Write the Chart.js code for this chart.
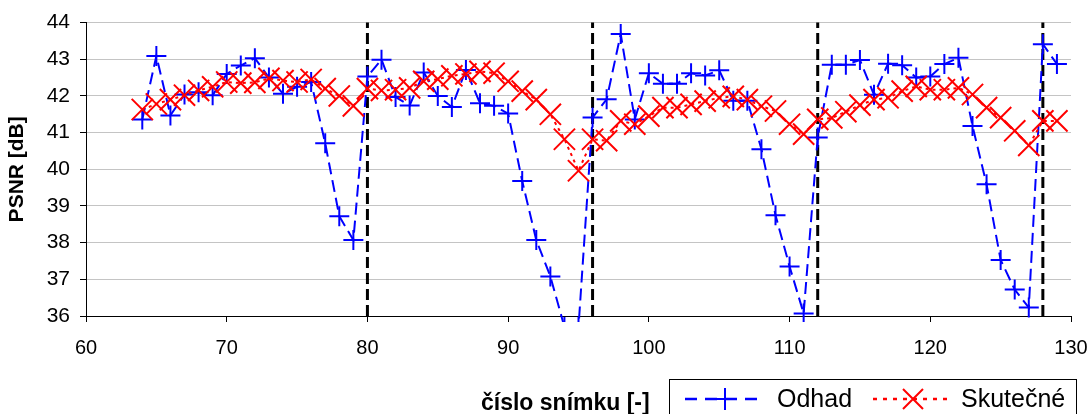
<!DOCTYPE html>
<html>
<head>
<meta charset="utf-8">
<script src="https://cdn.jsdelivr.net/npm/chart.js@4"></script>
<style>
html,body{margin:0;padding:0;background:#fff;}
#wrap{width:1091px;height:414px;position:relative;}
</style>
</head>
<body>
<div id="wrap"><canvas id="c"></canvas></div>
<script>
// ---- data ----
const frames = [64,65,66,67,68,69,70,71,72,73,74,75,76,77,78,79,80,81,82,83,84,85,86,87,88,89,90,91,92,93,94,95,96,97,98,99,100,101,102,103,104,105,106,107,108,109,110,111,112,113,114,115,116,117,118,119,120,121,122,123,124,125,126,127,128,129];
const odhad = [41.36,43.09,41.47,42.04,42.10,42.02,42.60,42.83,43.03,42.50,42.06,42.25,42.38,40.71,38.72,38.07,
               42.53,42.99,41.97,41.74,42.64,42.00,41.70,42.71,41.80,41.73,41.52,39.68,38.07,37.08,35.70,35.70,
               41.41,41.91,43.69,41.36,42.62,42.33,42.33,42.62,42.56,42.70,41.87,41.87,40.55,38.75,37.35,36.07,
               40.87,42.85,42.85,42.98,42.03,42.88,42.84,42.50,42.53,42.87,43.04,41.18,39.59,37.53,36.72,36.23,
               43.41,42.87];
const skutecne = [41.63,41.78,41.90,42.02,42.15,42.25,42.38,42.35,42.37,42.48,42.42,42.38,42.45,42.20,42.00,41.73,
                  42.20,42.15,42.17,42.22,42.40,42.46,42.55,42.60,42.67,42.62,42.40,42.13,41.90,41.50,40.82,39.96,
                  40.82,40.78,41.32,41.23,41.45,41.68,41.68,41.77,41.86,41.95,41.99,41.90,41.72,41.59,41.23,40.96,
                  41.36,41.40,41.57,41.75,41.90,41.95,42.13,42.26,42.17,42.17,42.22,42.04,41.68,41.41,41.05,40.65,
                  41.32,41.32];
const boundaries = [80,96,112,128];
const xRange = [60,130];
const yRange = [36,44];
const seriesNames = ['Odhad','Skutečné'];
const xTitle = 'číslo snímku [-]';
const yTitle = 'PSNR [dB]';

const FONT = '"Liberation Sans", Arial, Helvetica, sans-serif';
Chart.defaults.font.family = FONT;
Chart.defaults.color = '#000';

const toXY = (xs, ys) => xs.map((x, i) => ({x: x, y: ys[i]}));

const sepSets = boundaries.map(b => ({
  data: [{x: b, y: yRange[0]}, {x: b, y: yRange[1]}],
  borderColor: '#000', borderWidth: 3, borderDash: [11, 5],
  pointRadius: 0, order: 3, clip: 4
}));

function drawPlus(ctx, x, y, r){
  ctx.beginPath(); ctx.moveTo(x - r, y); ctx.lineTo(x + r, y);
  ctx.moveTo(x, y - r); ctx.lineTo(x, y + r); ctx.stroke();
}
function drawX(ctx, x, y, r){
  ctx.beginPath(); ctx.moveTo(x - r, y - r); ctx.lineTo(x + r, y + r);
  ctx.moveTo(x - r, y + r); ctx.lineTo(x + r, y - r); ctx.stroke();
}

const extras = {
  id: 'extras',
  afterDraw(chart){
    const ctx = chart.ctx;
    ctx.save();
    // x-axis title
    ctx.fillStyle = '#000';
    ctx.font = 'bold 23px ' + FONT;
    ctx.textAlign = 'left';
    ctx.textBaseline = 'alphabetic';
    ctx.fillText(xTitle, 481, 410);
    // legend box
    ctx.strokeStyle = '#000';
    ctx.lineWidth = 1;
    ctx.strokeRect(669.5, 379.5, 407, 44);
    const ly = 399;
    // Odhad sample
    ctx.strokeStyle = '#0000ff';
    ctx.lineWidth = 2.5;
    ctx.setLineDash([12, 8]);
    ctx.beginPath(); ctx.moveTo(685, ly); ctx.lineTo(765, ly); ctx.stroke();
    ctx.setLineDash([]);
    ctx.lineWidth = 2;
    drawPlus(ctx, 725, ly, 11);
    ctx.font = '25px ' + FONT;
    ctx.fillText(seriesNames[0], 777, 407);
    // Skutecne sample
    ctx.strokeStyle = '#ff0000';
    ctx.lineWidth = 2.5;
    ctx.setLineDash([4, 6]);
    ctx.beginPath(); ctx.moveTo(873, ly); ctx.lineTo(950, ly); ctx.stroke();
    ctx.setLineDash([]);
    ctx.lineWidth = 2;
    drawX(ctx, 913, ly, 10);
    ctx.fillText(seriesNames[1], 961, 407);
    ctx.restore();
  }
};

new Chart(document.getElementById('c'), {
  type: 'line',
  data: {
    datasets: [
      {
        label: seriesNames[1],
        data: toXY(frames, skutecne),
        borderColor: '#ff0000', borderWidth: 2, borderDash: [3, 4],
        pointStyle: 'crossRot', pointRadius: 15, pointBorderWidth: 2,
        pointBorderColor: '#ff0000', pointBackgroundColor: '#ff0000',
        order: 1, clip: {left: 20, right: 20, top: 20, bottom: 6}
      },
      {
        label: seriesNames[0],
        data: toXY(frames, odhad),
        borderColor: '#0000ff', borderWidth: 2, borderDash: [12, 6],
        pointStyle: 'cross', pointRadius: 10, pointBorderWidth: 2,
        pointBorderColor: '#0000ff', pointBackgroundColor: '#0000ff',
        order: 2, clip: {left: 20, right: 20, top: 20, bottom: 6}
      },
      ...sepSets
    ]
  },
  options: {
    responsive: true,
    maintainAspectRatio: false,
    animation: false,
    events: [],
    layout: {padding: {top: 21, right: 20, left: 0, bottom: 0}},
    plugins: {legend: {display: false}, tooltip: {enabled: false}},
    scales: {
      x: {
        type: 'linear', min: xRange[0], max: xRange[1],
        ticks: {stepSize: 10, font: {size: 20}, color: '#000', padding: 14, maxRotation: 0},
        grid: {drawOnChartArea: false, drawTicks: true, tickLength: 6, tickColor: '#000'},
        border: {display: true, color: '#000', width: 1},
        afterFit: s => { s.height = 98; s.paddingLeft = 0; s.paddingRight = 0; }
      },
      y: {
        min: yRange[0], max: yRange[1],
        ticks: {stepSize: 1, font: {size: 21}, color: '#000', padding: 10},
        grid: {color: '#c4c4c4', lineWidth: 1, drawTicks: true, tickLength: 6, tickColor: '#000'},
        border: {display: true, color: '#000', width: 1},
        title: {display: true, text: yTitle, font: {size: 21, weight: 'bold'}, color: '#000', padding: {top: 5, bottom: 0}},
        afterFit: s => { s.width = 86; }
      }
    }
  },
  plugins: [extras]
});
</script>
</body>
</html>
